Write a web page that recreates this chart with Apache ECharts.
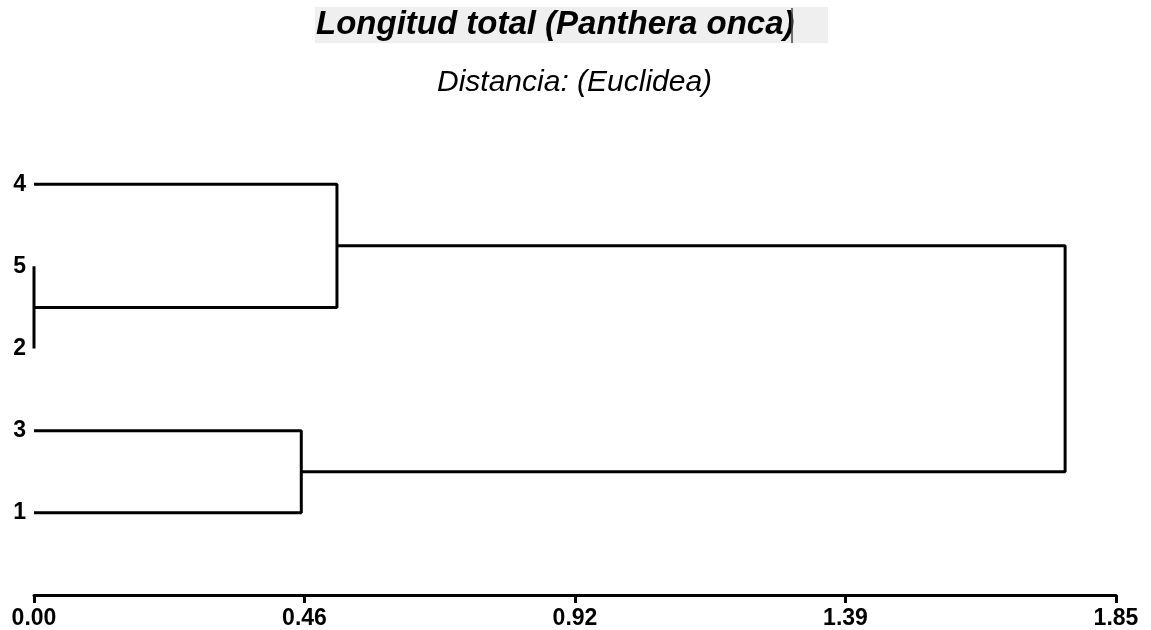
<!DOCTYPE html>
<html>
<head>
<meta charset="utf-8">
<script src="https://cdn.jsdelivr.net/npm/echarts@6/dist/echarts.min.js"></script>
<style>html,body{margin:0;padding:0;background:#fff;}#c{width:1151px;height:630px;}</style>
</head>
<body>
<div id="c"></div>
<script>
// Leaves listed top to bottom
var leaves = ['4', '5', '2', '3', '1'];
// Merges: [left cluster, right cluster, distance]; clusters by leaf name or merge index "m0", "m1"...
var merges = [
  ['5', '2', 0.00],
  ['3', '1', 0.457],
  ['4', 'm0', 0.518],
  ['m2', 'm1', 1.763]
];
var xTickLabels = ['0.00', '0.46', '0.92', '1.39', '1.85'];
var xMax = 1.85;
var titleText = 'Longitud total (Panthera onca)';
var subText = 'Distancia: (Euclidea)';

var nLeaves = leaves.length;
var nodePos = {};
leaves.forEach(function (l, i) { nodePos[l] = { y: nLeaves - i, h: 0 }; });
var series = [];
merges.forEach(function (m, k) {
  var a = nodePos[m[0]], b = nodePos[m[1]], d = m[2];
  series.push({
    type: 'line',
    data: [[a.h, a.y], [d, a.y], [d, b.y], [b.h, b.y]],
    showSymbol: false,
    symbol: 'none',
    lineStyle: { color: '#000', width: 3 },
    silent: true,
    animation: false
  });
  nodePos['m' + k] = { y: (a.y + b.y) / 2, h: d };
});

var chart = echarts.init(document.getElementById('c'));
chart.setOption({
  animation: false,
  backgroundColor: '#fff',
  graphic: [
    { type: 'rect', shape: { x: 315, y: 7, width: 513, height: 36 }, style: { fill: '#efefef' }, z: 0 },
    { type: 'line', shape: { x1: 792, y1: 8, x2: 792, y2: 43 }, style: { stroke: '#444', lineWidth: 1.5 }, z: 10 }
  ],
  title: [
    {
      text: titleText, left: 316, top: 8, padding: 0,
      textStyle: { fontFamily: 'Liberation Sans, Arial', fontSize: 33, fontWeight: 'bold', fontStyle: 'italic', color: '#000' }
    },
    {
      text: subText, left: 437, top: 68, padding: 0,
      textStyle: { fontFamily: 'Liberation Sans, Arial', fontSize: 30, fontWeight: 'normal', fontStyle: 'italic', color: '#000' }
    }
  ],
  grid: { left: 34, right: 35, top: 102, bottom: 35, containLabel: false },
  xAxis: {
    type: 'value', min: 0, max: xMax, interval: xMax / 4,
    axisLine: { show: true, onZero: false, lineStyle: { color: '#000', width: 3 } },
    axisTick: { show: true, length: 8, lineStyle: { color: '#000', width: 3 } },
    splitLine: { show: false },
    axisLabel: {
      margin: 12, color: '#000', fontFamily: 'Liberation Sans, Arial', fontSize: 23, fontWeight: 'bold',
      formatter: function (v) { var i = Math.round(v / (xMax / 4)); return xTickLabels[i]; }
    }
  },
  yAxis: {
    type: 'value', min: 0, max: nLeaves + 1, interval: 1,
    axisLine: { show: false }, axisTick: { show: false }, splitLine: { show: false },
    axisLabel: {
      margin: 8, color: '#000', fontFamily: 'Liberation Sans, Arial', fontSize: 23, fontWeight: 'bold',
      formatter: function (v) { var i = nLeaves - v; return (i >= 0 && i < nLeaves) ? leaves[i] : ''; }
    }
  },
  series: series
});
</script>
</body>
</html>
